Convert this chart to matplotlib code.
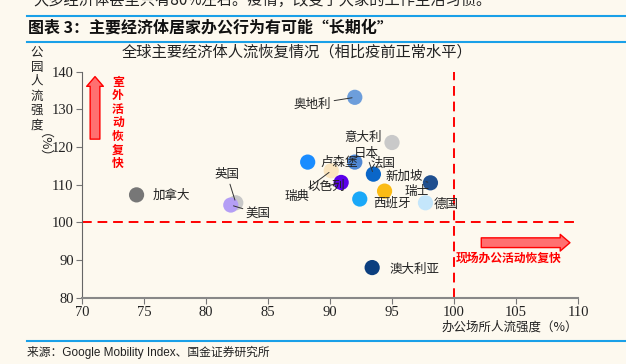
import matplotlib
matplotlib.use("Agg")
import matplotlib.pyplot as plt
from matplotlib.lines import Line2D

# Data
countries = ["奥地利", "意大利", "卢森堡", "法国", "瑞典", "日本", "以色列", "新加坡",
             "瑞士", "西班牙", "德国", "加拿大", "英国", "美国", "澳大利亚"]
office = [92.0, 95.0, 88.2, 92.0, 90.1, 93.5, 90.9, 98.1,
          94.4, 92.4, 97.7, 74.4, 82.4, 82.0, 93.4]
park = [133.2, 121.2, 116.0, 116.0, 113.7, 112.8, 110.6, 110.5,
        108.3, 106.2, 105.2, 107.3, 105.2, 104.6, 88.0]
colors = ["#6d9edb", "#c9c9c9", "#1a8cff", "#4f88d4", "#fbe5bf", "#0a66c8", "#5a00ea", "#1f4f8f",
          "#fbbb14", "#1aa8f8", "#c4e6fb", "#777777", "#c8c8c8", "#b49ef5", "#0c3f7f"]

# label placement (layout)
label_x = [88.6, 92.7, 90.7, 94.3, 87.3, 92.9, 89.7, 96.0, 97.0, 95.0, 99.4, 77.2, 81.7, 84.2, 96.8]
label_y = [131.4, 122.6, 115.8, 115.8, 106.8, 118.4, 109.6, 112.2, 108.1, 105.2, 104.8, 107.3, 112.6, 102.4, 87.6]
leader = [True, False, False, False, True, True, True, True, False, False, False, False, True, True, False]

xticks = [70, 75, 80, 85, 90, 95, 100, 105, 110]
yticks = [80, 90, 100, 110, 120, 130, 140]

bg = "#fdf9ef"
blue = "#1aa0e8"
CJK = ["Noto Sans CJK SC", "DejaVu Sans"]
W, H = 626, 364

fig = plt.figure(figsize=(W / 100, H / 100), dpi=100, facecolor=bg)
ax = fig.add_axes([82 / W, 1 - 297.7 / H, (578 - 82) / W, (297.7 - 71.7) / H])
ax.set_facecolor(bg)

ax.scatter(office, park, s=120, c=colors, edgecolors="none", zorder=3)

for i, name in enumerate(countries):
    if leader[i]:
        ax.annotate(name, xy=(office[i], park[i]), xytext=(label_x[i], label_y[i]),
                    ha="center", va="center", fontsize=9, family=CJK, color="#222222", zorder=4,
                    arrowprops=dict(arrowstyle="-", lw=0.7, color="#333333",
                                    shrinkA=0, shrinkB=2))
    else:
        ax.text(label_x[i], label_y[i], name, ha="center", va="center", fontsize=9,
                family=CJK, color="#222222", zorder=4)

# reference lines
ax.axhline(100, color="#ff0000", lw=1.4, ls=(0, (5, 3)), zorder=2)
ax.axvline(100, color="#ff0000", lw=1.4, ls=(0, (5, 3)), zorder=2)

# arrows
ax.annotate("", xy=(71.05, 138.7), xytext=(71.05, 122.1),
            arrowprops=dict(arrowstyle="simple,head_length=7,head_width=12,tail_width=7",
                            mutation_scale=1, fc="#ff7070", ec="#ff0000", lw=1,
                            shrinkA=0, shrinkB=0))
ax.annotate("", xy=(109.35, 94.6), xytext=(102.2, 94.6),
            arrowprops=dict(arrowstyle="simple,head_length=7,head_width=12,tail_width=7",
                            mutation_scale=1, fc="#ff7070", ec="#ff0000", lw=1,
                            shrinkA=0, shrinkB=0), annotation_clip=False)
ax.text(72.9, 138.9, "\n".join("室外活动恢复快"), ha="center", va="top", fontsize=8.5,
        family=CJK, color="#ff0000", fontweight="bold", linespacing=1.05)
ax.text(100.1, 90.5, "现场办公活动恢复快", ha="left", va="center", fontsize=8.5,
        family=CJK, color="#ff0000", fontweight="bold")

ax.set_xlim(70, 110)
ax.set_ylim(80, 140)
ax.set_xticks(xticks)
ax.set_yticks(yticks)
for lab in ax.get_xticklabels() + ax.get_yticklabels():
    lab.set_family("Liberation Serif")
    lab.set_fontsize(10.5)
    lab.set_color("#222222")
for s in ["top", "right"]:
    ax.spines[s].set_visible(False)
ax.spines["left"].set_color("#666666")
ax.spines["bottom"].set_color("#888888")
ax.spines["bottom"].set_linewidth(1.5)
ax.tick_params(axis="both", direction="out", length=4, color="#777777", pad=2)

ax.text(1.0, -0.13, "办公场所人流强度（%）", transform=ax.transAxes, ha="right", va="center",
        fontsize=9, family=CJK, color="#222222")

# figure texts
fig.text(33 / W, 1 - 0 / H, "大多经济体甚至只有80%左右。疫情，改变了大家的工作生活习惯。",
         ha="left", va="center", fontsize=11, family=CJK, color="#222222")
for y in [15.7, 41.7, 341.3]:
    fig.add_artist(Line2D([27 / W, 1], [1 - y / H] * 2, transform=fig.transFigure,
                          color=blue, lw=1.5))
fig.text(28 / W, 1 - 27.5 / H, "图表 3：主要经济体居家办公行为有可能“长期化”", ha="left", va="center",
         fontsize=11.5, family=CJK, fontweight="bold", fontstyle="italic", color="#111111")
fig.text(122 / W, 1 - 52 / H, "全球主要经济体人流恢复情况（相比疫前正常水平）", ha="left", va="center",
         fontsize=11, family=CJK, color="#222222")
fig.text(37 / W, 1 - 46 / H, "\n".join("公园人流强度"), ha="center", va="top", fontsize=9,
         family=CJK, color="#222222", linespacing=1.15)
fig.text(37 / W, 1 - 152 / H, "（%）", ha="center", va="center", rotation=-90, fontsize=9.5,
         family=CJK, color="#222222")
fig.text(27 / W, 1 - 352 / H, "来源：Google Mobility Index、国金证券研究所", ha="left", va="center",
         fontsize=8.5, family=["Liberation Sans", "Noto Sans CJK SC"], color="#222222")

fig.savefig("out.png", dpi=100, facecolor=bg)
